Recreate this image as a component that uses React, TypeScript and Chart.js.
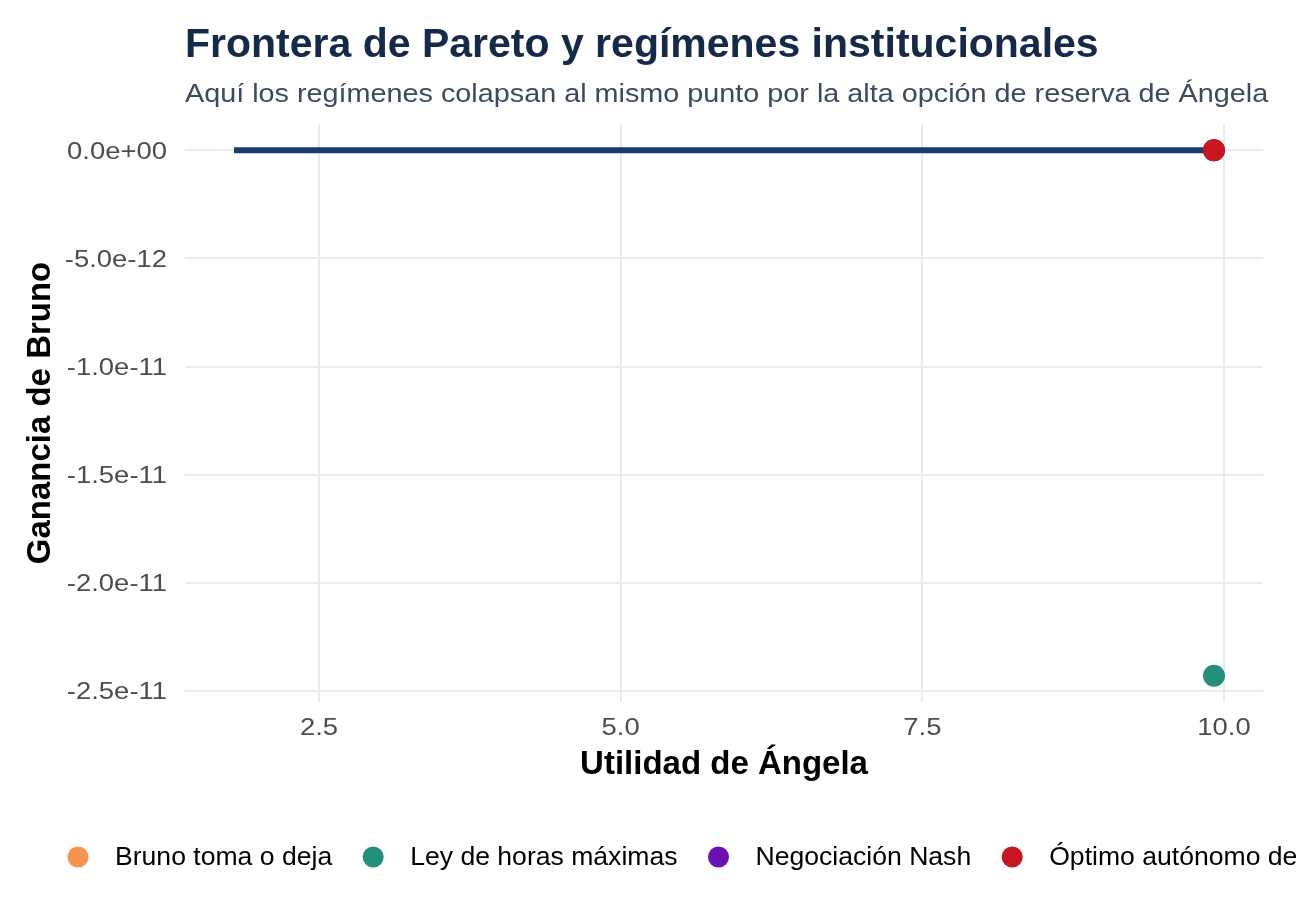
import { useEffect, useRef } from "react";
import { Chart, registerables } from "chart.js";

Chart.register(...registerables);

// ---- Data ----
const frontierX = [1.796, 6.64, 8.4, 9.37, 9.917];
const frontierY = [0, 0, 0, 0, 0];

const regimeLabels = [
  "Bruno toma o deja",
  "Ley de horas máximas",
  "Negociación Nash",
  "Óptimo autónomo de Ángela",
];
const regimeX = [9.917, 9.917, 9.917, 9.917];
const regimeY = [0, -2.43e-11, 0, 0];
const regimeColors = ["#f4954f", "#23907b", "#6a11b5", "#c8151f"];

const xTicks = [2.5, 5.0, 7.5, 10.0];
const yTicks = [0, -5e-12, -1e-11, -1.5e-11, -2e-11, -2.5e-11];

const TITLE = "Frontera de Pareto y regímenes institucionales";
const SUBTITLE =
  "Aquí los regímenes colapsan al mismo punto por la alta opción de reserva de Ángela";
const X_TITLE = "Utilidad de Ángela";
const Y_TITLE = "Ganancia de Bruno";

const FONT = "'Liberation Sans', Arial, Helvetica, sans-serif";

function fmtSci(v: number): string {
  if (Math.abs(v) < 1e-30) return "0.0e+00";
  let exp = Math.floor(Math.log10(Math.abs(v)));
  let mant = v / Math.pow(10, exp);
  if (Math.abs(Math.round(mant * 10) / 10) >= 10) {
    mant /= 10;
    exp += 1;
  }
  const sign = exp < 0 ? "-" : "+";
  const e = String(Math.abs(exp)).padStart(2, "0");
  return `${mant.toFixed(1)}e${sign}${e}`;
}

function expand(vals: number[]): [number, number] {
  const mn = Math.min(...vals);
  const mx = Math.max(...vals);
  const pad = (mx - mn) * 0.05;
  return [mn - pad, mx + pad];
}

const allX = [...frontierX, ...regimeX];
const allY = [...frontierY, ...regimeY];
const [xMin, xMax] = expand(allX);
const [yMin, yMax] = expand(allY);

function drawText(
  ctx: CanvasRenderingContext2D,
  text: string,
  x: number,
  y: number,
  font: string,
  color: string,
  align: "left" | "center" | "right",
  sx: number
): number {
  ctx.save();
  ctx.font = font;
  ctx.fillStyle = color;
  ctx.textAlign = "left";
  ctx.textBaseline = "alphabetic";
  const w = ctx.measureText(text).width * sx;
  let left = x;
  if (align === "center") left = x - w / 2;
  else if (align === "right") left = x - w;
  ctx.translate(left, y);
  ctx.scale(sx, 1);
  ctx.fillText(text, 0, 0);
  ctx.restore();
  return w;
}

const textPlugin = {
  id: "customTexts",
  afterDraw(chart: any) {
    const ctx = chart.ctx as CanvasRenderingContext2D;
    const a = chart.chartArea;
    const xs = chart.scales.x;
    const ys = chart.scales.y;

    drawText(ctx, TITLE, 185, 57, `bold 41px ${FONT}`, "#15294a", "left", 1.0);
    drawText(ctx, SUBTITLE, 185, 101.5, `26px ${FONT}`, "#3b4a5f", "left", 1.107);

    // tick labels
    const tickFont = `24.5px ${FONT}`;
    yTicks.forEach((v) => {
      const py = ys.getPixelForValue(v);
      drawText(ctx, fmtSci(v), 167, py + 8.5, tickFont, "#4d4d4d", "right", 1.12);
    });
    xTicks.forEach((v) => {
      const px = xs.getPixelForValue(v);
      drawText(ctx, v.toFixed(1), px, 735, tickFont, "#4d4d4d", "center", 1.12);
    });

    // axis titles
    drawText(ctx, X_TITLE, (a.left + a.right) / 2, 774, `bold 33px ${FONT}`, "#000000", "center", 1.0);
    ctx.save();
    ctx.translate(50, (a.top + a.bottom) / 2);
    ctx.rotate(-Math.PI / 2);
    drawText(ctx, Y_TITLE, 0, 0, `bold 33px ${FONT}`, "#000000", "center", 1.0);
    ctx.restore();

    // legend
    let cx = 78;
    const cy = 857;
    regimeLabels.forEach((lab, i) => {
      ctx.save();
      ctx.beginPath();
      ctx.fillStyle = regimeColors[i];
      ctx.arc(cx, cy, 10.5, 0, Math.PI * 2);
      ctx.fill();
      ctx.restore();
      const tx = cx + 37;
      const w = drawText(ctx, lab, tx, 865, `25px ${FONT}`, "#000000", "left", 1.063);
      cx = tx + w + 41;
    });
  },
};

export default function App() {
  const ref = useRef<HTMLCanvasElement | null>(null);

  useEffect(() => {
    if (!ref.current) return;
    const lineData = frontierX.map((x, i) => ({ x, y: frontierY[i] }));
    const scatterSets = regimeLabels.map((lab, i) => ({
      type: "scatter" as const,
      label: lab,
      data: [{ x: regimeX[i], y: regimeY[i] }],
      backgroundColor: regimeColors[i],
      borderColor: regimeColors[i],
      borderWidth: 0,
      pointRadius: 11,
      order: regimeLabels.length - i,
    }));
    const chart = new Chart(ref.current, {
      type: "scatter",
      data: {
        datasets: [
          {
            type: "line" as const,
            label: "Frontera",
            data: lineData,
            borderColor: "#1a3c73",
            borderWidth: 6,
            pointRadius: 0,
            borderCapStyle: "butt",
            showLine: true,
            fill: false,
            order: 10,
          } as any,
          ...scatterSets,
        ],
      },
      options: {
        animation: false,
        responsive: false,
        events: [],
        layout: { padding: { top: 124, right: 42, left: 0, bottom: 0 } },
        plugins: {
          legend: { display: false },
          tooltip: { enabled: false },
          title: { display: false },
        },
        scales: {
          x: {
            type: "linear",
            min: xMin,
            max: xMax,
            afterBuildTicks: (s: any) => {
              s.ticks = xTicks.map((v) => ({ value: v }));
            },
            afterFit: (s: any) => {
              s.height = 219;
            },
            ticks: { display: false, autoSkip: false },
            grid: { color: "#ebebeb", lineWidth: 2, drawTicks: false },
            border: { display: false },
          },
          y: {
            type: "linear",
            min: yMin,
            max: yMax,
            afterBuildTicks: (s: any) => {
              s.ticks = yTicks.map((v) => ({ value: v }));
            },
            afterFit: (s: any) => {
              s.width = 185;
            },
            ticks: { display: false, autoSkip: false },
            grid: { color: "#ebebeb", lineWidth: 2, drawTicks: false },
            border: { display: false },
          },
        },
      },
      plugins: [textPlugin],
    });
    return () => chart.destroy();
  }, []);

  return (
    <div style={{ position: "absolute", left: 0, top: 0, width: 1305, height: 921, background: "#ffffff" }}>
      <canvas ref={ref} width={1305} height={921} style={{ width: 1305, height: 921, display: "block" }} />
    </div>
  );
}
